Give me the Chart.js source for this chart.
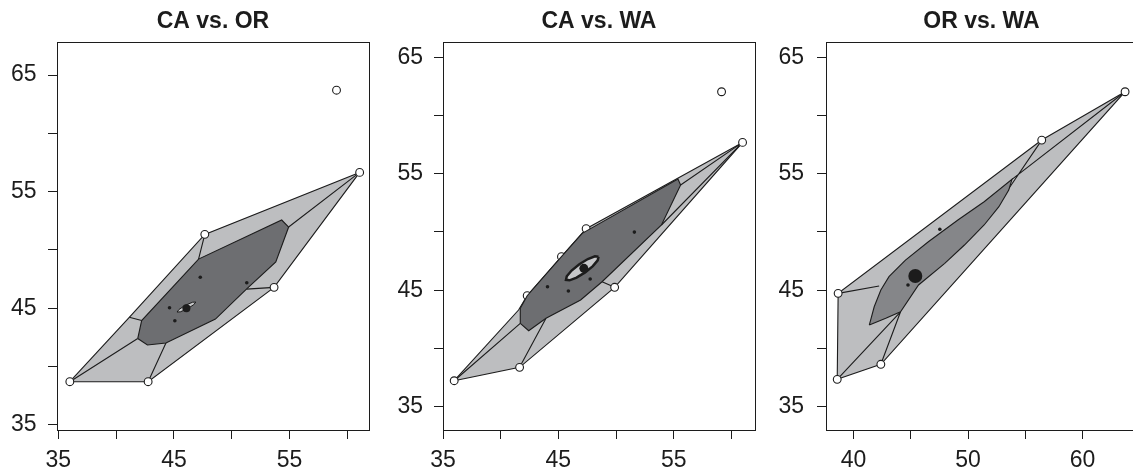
<!DOCTYPE html>
<html>
<head>
<meta charset="utf-8">
<script src="https://cdn.jsdelivr.net/npm/chart.js@4.4.1/dist/chart.umd.min.js"></script>
<style>
  html, body { margin: 0; padding: 0; background: #fff; overflow: hidden; width: 1133px; height: 471px; }
  canvas { position: absolute; top: 0; }
</style>
</head>
<body>
<canvas id="p1" width="374" height="471" style="left:0px"></canvas>
<canvas id="p2" width="380" height="471" style="left:380px"></canvas>
<canvas id="p3" width="382" height="471" style="left:762px"></canvas>
<script>
// ---- CA vs. OR ----
const caOrLoop = [[36.00, 38.71], [41.14, 44.23], [47.67, 51.34], [61.06, 56.65], [53.66, 46.80], [42.77, 38.71]];
const caOrBag = [[41.87, 42.41], [42.21, 43.95], [47.13, 49.22], [54.32, 52.57], [54.92, 51.97], [53.81, 48.97],
  [51.27, 46.65], [48.59, 44.08], [44.31, 42.03], [42.71, 41.86]];
const caOrLinks = [[36.00, 38.71, 41.87, 42.41], [41.14, 44.23, 42.21, 43.95], [47.67, 51.34, 47.13, 49.22],
  [61.06, 56.65, 54.92, 51.97], [53.66, 46.80, 51.27, 46.65], [42.77, 38.71, 44.31, 42.03]];
const caOrOpen = [[36.00, 38.71], [42.77, 38.71], [47.67, 51.34], [53.66, 46.80], [61.06, 56.65], [59.06, 63.70]];
const caOrDots = [[47.28, 47.66], [51.30, 47.19], [44.62, 45.05], [45.08, 43.94]];
const caOrCenter = [46.08, 45.00];
const caOrMedRegion = [[46.89, 45.54], [46.71, 45.31], [46.16, 44.96], [45.56, 44.70], [45.27, 44.68],
  [45.45, 44.91], [46.00, 45.27], [46.61, 45.52]];

// ---- CA vs. WA ----
const caWaLoop = [[35.97, 37.23], [41.55, 43.30], [42.30, 44.53], [45.27, 47.88], [47.41, 50.28], [60.97, 57.69],
  [49.88, 45.25], [41.64, 38.38]];
const caWaBag = [[41.70, 42.16], [41.70, 43.45], [42.30, 44.53], [45.27, 47.88], [47.07, 49.88], [55.37, 54.55],
  [55.60, 54.03], [53.94, 50.60], [48.79, 45.73], [46.93, 44.16], [43.93, 42.59], [42.43, 41.52]];
const caWaLinks = [[35.97, 37.23, 41.70, 42.16], [41.64, 38.38, 43.93, 42.59], [60.97, 57.69, 55.60, 54.03],
  [60.97, 57.69, 53.94, 50.60], [49.88, 45.25, 48.79, 45.73]];
const caWaOpen = [[35.97, 37.23], [41.64, 38.38], [49.88, 45.25], [60.97, 57.69], [59.15, 62.04],
  [42.30, 44.53], [45.27, 47.88], [47.41, 50.28]];
const caWaDots = [[51.59, 49.99], [44.06, 45.30], [45.87, 44.93], [47.76, 45.96]];
const caWaCenter = [47.21, 46.88];
const caWaMedRegion = [[48.48, 47.87], [48.41, 47.56], [47.99, 47.07], [47.32, 46.53], [46.58, 46.08], [45.97, 45.85],
  [45.66, 45.89], [45.73, 46.20], [46.15, 46.69], [46.82, 47.23], [47.56, 47.68], [48.17, 47.91]];

// ---- OR vs. WA ----
const orWaLoop = [[38.57, 37.35], [38.65, 44.73], [56.43, 57.89], [63.71, 62.04], [42.38, 38.64]];
const orWaBag = [[41.37, 42.01], [41.80, 43.58], [42.38, 45.02], [43.09, 46.16], [44.53, 47.59], [46.53, 49.16],
  [49.11, 51.03], [51.40, 52.60], [53.83, 54.52], [53.55, 53.60], [52.69, 52.17], [51.40, 50.60], [49.68, 48.88],
  [47.96, 47.31], [45.67, 45.45], [44.10, 43.15], [42.81, 42.59]];
const orWaLinks = [[38.65, 44.73, 42.23, 45.36], [38.57, 37.35, 44.10, 43.15], [42.38, 38.64, 44.10, 43.15],
  [56.43, 57.89, 53.23, 53.26], [63.71, 62.04, 53.83, 54.52]];
const orWaOpen = [[38.57, 37.35], [38.65, 44.73], [56.43, 57.89], [63.71, 62.04], [42.38, 38.64]];
const orWaDots = [[47.53, 50.23], [44.75, 45.45]];
const orWaCenter = [45.39, 46.22];

// ---- axes ----
const caOrXTicks = [35, 40, 45, 50, 55, 60];
const caOrXLabels = [35, 45, 55];
const caWaXTicks = [35, 40, 45, 50, 55, 60];
const caWaXLabels = [35, 45, 55];
const orWaXTicks = [40, 45, 50, 55, 60];
const orWaXLabels = [40, 50, 60];
const yTicks = [35, 40, 45, 50, 55, 60, 65];
const yLabels = [35, 45, 55, 65];

const FONT = "'Liberation Sans', Arial, Helvetica, sans-serif";
const INK = "#1c1c1c";
const LIGHT = "#bdbec0";

function pts(arr) { return arr.map(p => ({ x: p[0], y: p[1] })); }
function closed(arr) { return pts(arr.concat([arr[0]])); }
function links(arr) {
  const out = [];
  arr.forEach(s => { out.push({ x: s[0], y: s[1] }, { x: s[2], y: s[3] }, { x: null, y: null }); });
  return out;
}

// full frame round the plot area, like R's box()
const boxPlugin = {
  id: "box",
  afterDraw(chart) {
    const { ctx, chartArea: a } = chart;
    ctx.save();
    ctx.strokeStyle = INK;
    ctx.lineWidth = 1;
    ctx.strokeRect(Math.round(a.left) + 0.5, Math.round(a.top) + 0.5,
      Math.round(a.right) - Math.round(a.left), Math.round(a.bottom) - Math.round(a.top));
    ctx.restore();
  }
};

function makeScale(min, max, tickVals, labelVals, pad, fitKey, fitVal) {
  return {
    type: "linear", min: min, max: max,
    afterBuildTicks: s => { s.ticks = tickVals.map(v => ({ value: v })); },
    afterFit: s => { s[fitKey] = fitVal; },
    ticks: {
      autoSkip: false, maxRotation: 0, minRotation: 0, color: INK, padding: pad,
      font: { family: FONT, size: 23 },
      callback: v => labelVals.includes(v) ? String(v) : ""
    },
    grid: { drawOnChartArea: false, drawTicks: true, tickLength: 9, color: INK, lineWidth: 1 },
    border: { display: true, color: INK, width: 1 }
  };
}

function makePanel(id, p) {
  const sets = [
    { data: closed(p.loop), showLine: true, fill: "shape", backgroundColor: LIGHT, borderColor: INK, borderWidth: 1.1, pointRadius: 0, order: 10 },
    { data: links(p.links), showLine: true, fill: false, spanGaps: false, borderColor: INK, borderWidth: 1.1, pointRadius: 0, order: 9 },
    { data: pts(p.open), showLine: false, pointRadius: 3.9, pointBackgroundColor: "#fff", pointBorderColor: INK, pointBorderWidth: 1.1, order: 8 },
    { data: closed(p.bag), showLine: true, fill: "shape", backgroundColor: p.bagColor, borderColor: INK, borderWidth: 1.1, pointRadius: 0, order: 7 },
    { data: pts(p.dots), showLine: false, pointRadius: 1.8, pointBackgroundColor: INK, pointBorderWidth: 0, order: 6 }
  ];
  if (p.medRegion) {
    sets.push({ data: closed(p.medRegion), showLine: true, fill: "shape", backgroundColor: "#c6c7c9", borderColor: INK, borderWidth: p.medWidth, pointRadius: 0, order: 5 });
  }
  sets.push({ data: pts([p.center]), showLine: false, pointRadius: p.centerR, pointBackgroundColor: INK, pointBorderWidth: 0, order: 4 });

  new Chart(document.getElementById(id), {
    type: "scatter",
    data: { datasets: sets },
    options: {
      responsive: false,
      animation: false,
      devicePixelRatio: 1,
      events: [],
      layout: { padding: { left: 0, right: 2, top: 0, bottom: 0 } },
      elements: { line: { tension: 0 } },
      plugins: {
        legend: { display: false },
        tooltip: { enabled: false },
        title: {
          display: true, text: p.title, fullSize: false, color: INK,
          font: { family: FONT, size: 23, weight: "bold" },
          padding: { top: 8, bottom: 6.4 }
        }
      },
      scales: {
        x: makeScale(p.xMin, p.xMax, p.xTicks, p.xLabels, 8, "height", 41),
        y: makeScale(p.yMin, p.yMax, yTicks, yLabels, p.yPad, "width", p.yWidth)
      }
    },
    plugins: [boxPlugin]
  });
}

makePanel("p1", {
  title: "CA vs. OR", loop: caOrLoop, bag: caOrBag, links: caOrLinks, open: caOrOpen, dots: caOrDots,
  center: caOrCenter, medRegion: caOrMedRegion, medWidth: 1, centerR: 4, bagColor: "#6d6e71",
  xMin: 34.89, xMax: 61.86, yMin: 34.57, yMax: 67.83, xTicks: caOrXTicks, xLabels: caOrXLabels, yPad: 11.5, yWidth: 57
});
makePanel("p2", {
  title: "CA vs. WA", loop: caWaLoop, bag: caWaBag, links: caWaLinks, open: caWaOpen, dots: caWaDots,
  center: caWaCenter, medRegion: caWaMedRegion, medWidth: 2.5, centerR: 4.5, bagColor: "#6d6e71",
  xMin: 35.0, xMax: 62.04, yMin: 33.0, yMax: 66.31, xTicks: caWaXTicks, xLabels: caWaXLabels, yPad: 11, yWidth: 63
});
makePanel("p3", {
  title: "OR vs. WA", loop: orWaLoop, bag: orWaBag, links: orWaLinks, open: orWaOpen, dots: orWaDots,
  center: orWaCenter, medRegion: null, centerR: 7, bagColor: "#858689",
  xMin: 37.59, xMax: 64.75, yMin: 33.0, yMax: 66.31, xTicks: orWaXTicks, xLabels: orWaXLabels, yPad: 13, yWidth: 64
});
</script>
</body>
</html>
